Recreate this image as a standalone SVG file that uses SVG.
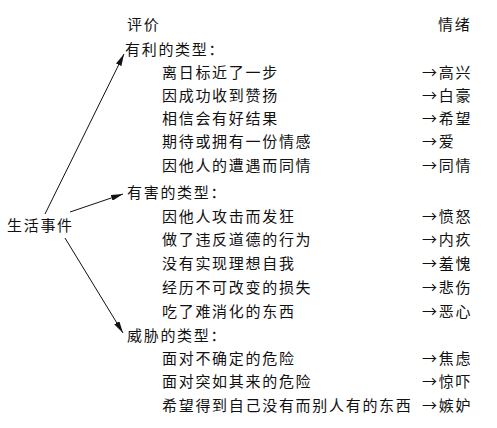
<svg xmlns="http://www.w3.org/2000/svg" width="497" height="428" viewBox="0 0 497 428">
<defs>
<style>
text{font-family:"Noto Sans CJK SC","Noto Sans",sans-serif;font-size:15px;fill:#111;letter-spacing:1.7px}
.ln{stroke:#111;stroke-width:1;fill:none}
</style>
<marker id="ah" viewBox="0 0 12 6" refX="12" refY="3" markerWidth="12" markerHeight="6" markerUnits="userSpaceOnUse" orient="auto">
<path d="M0,0 L12,3 L0,6 Z" fill="#111"/>
</marker>
</defs>
<rect width="497" height="428" fill="#fff"/>
<g id="header">
<text x="127" y="30">评价</text>
<text x="438" y="30">情绪</text>
</g>
<g id="root">
<text x="7" y="231">生活事件</text>
</g>
<g id="favorable">
<text x="125" y="55">有利的类型：</text>
<text x="162" y="78">离日标近了一步</text><text x="422" y="78">→高兴</text>
<text x="162" y="101">因成功收到赞扬</text><text x="422" y="101">→白豪</text>
<text x="162" y="124">相信会有好结果</text><text x="422" y="124">→希望</text>
<text x="162" y="147">期待或拥有一份情感</text><text x="422" y="147">→爱</text>
<text x="162" y="171">因他人的遭遇而同情</text><text x="422" y="171">→同情</text>
</g>
<g id="harmful">
<text x="127" y="198">有害的类型：</text>
<text x="162" y="222">因他人攻击而发狂</text><text x="422" y="222">→愤怒</text>
<text x="162" y="245">做了违反道德的行为</text><text x="422" y="245">→内疚</text>
<text x="162" y="269">没有实现理想自我</text><text x="422" y="269">→羞愧</text>
<text x="162" y="293">经历不可改变的损失</text><text x="422" y="293">→悲伤</text>
<text x="162" y="317">吃了难消化的东西</text><text x="422" y="317">→恶心</text>
</g>
<g id="threat">
<text x="127" y="341">威胁的类型：</text>
<text x="162" y="364">面对不确定的危险</text><text x="422" y="364">→焦虑</text>
<text x="162" y="387">面对突如其来的危险</text><text x="422" y="387">→惊吓</text>
<text x="162" y="411">希望得到自己没有而别人有的东西</text><text x="422" y="411">→嫉妒</text>
</g>
<g id="connectors">
<line class="ln" x1="45" y1="214" x2="124" y2="54" marker-end="url(#ah)"/>
<line class="ln" x1="70" y1="212" x2="123" y2="194" marker-end="url(#ah)"/>
<line class="ln" x1="65" y1="238" x2="123" y2="333" marker-end="url(#ah)"/>
</g>
</svg>
